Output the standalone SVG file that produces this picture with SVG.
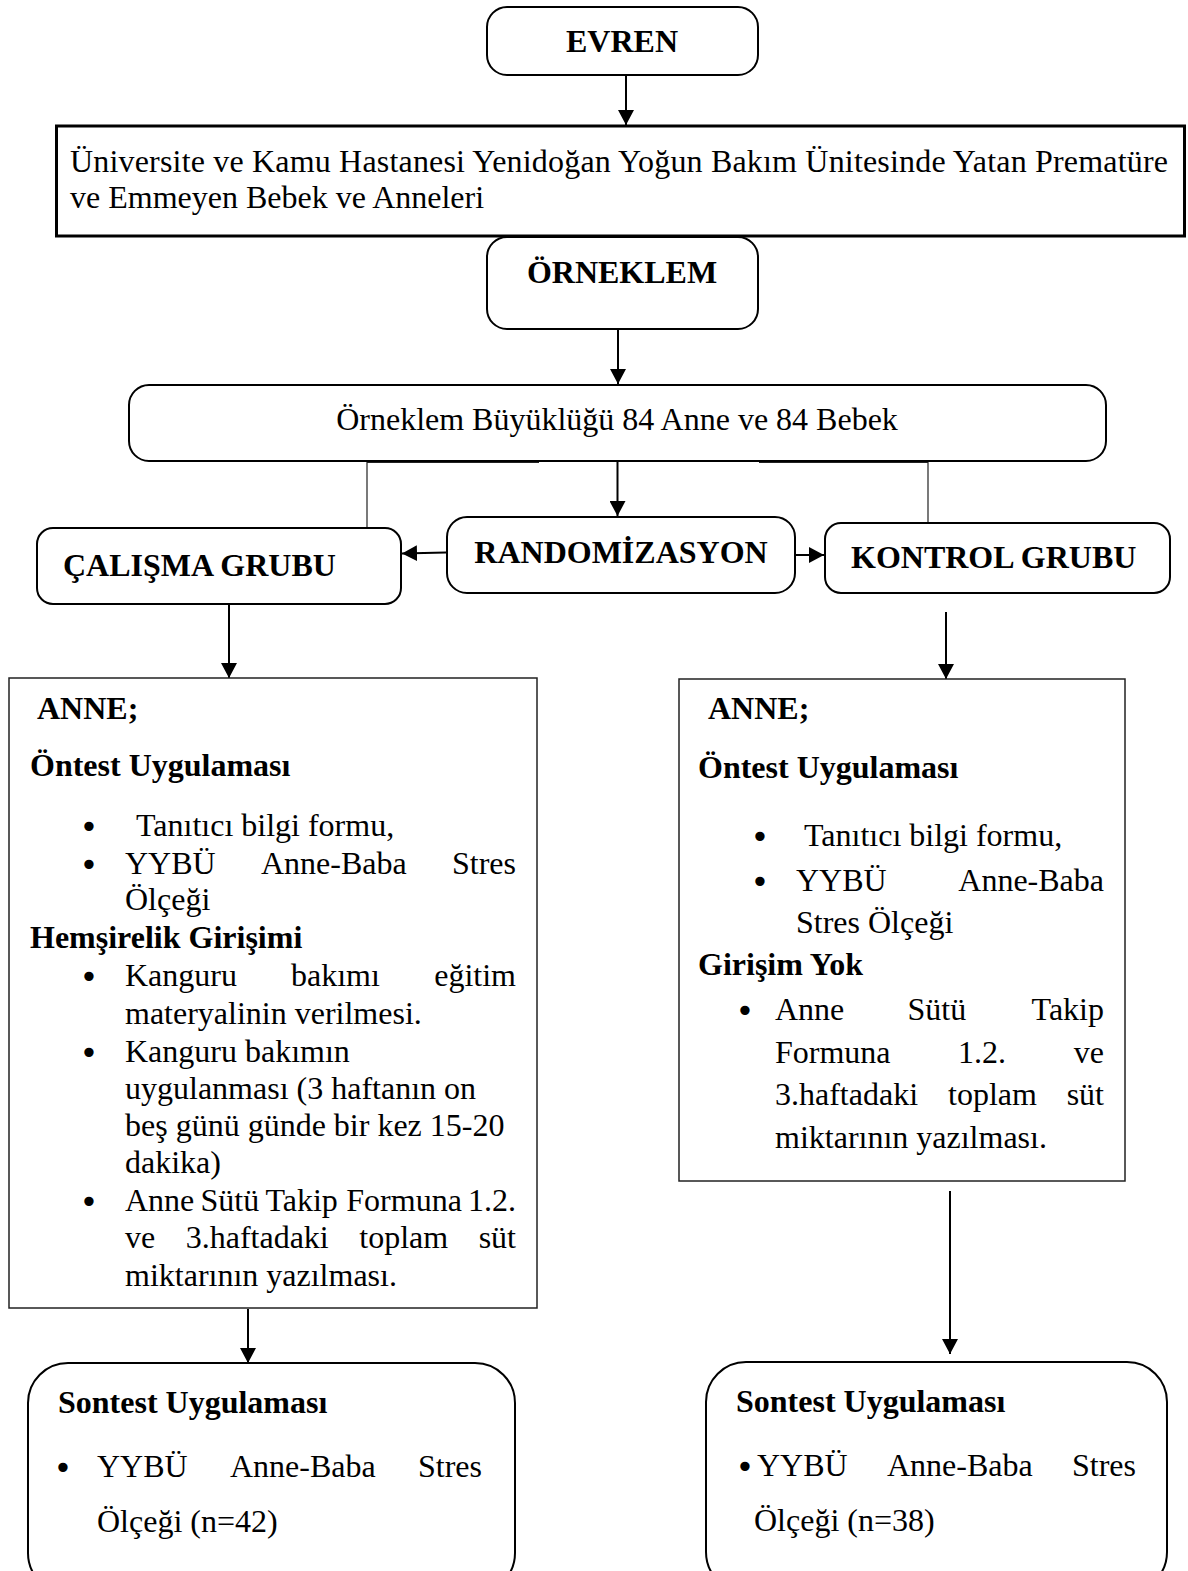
<svg xmlns="http://www.w3.org/2000/svg" width="1188" height="1571" viewBox="0 0 1188 1571">
<defs>
<style>
text{font-family:"Liberation Serif","Times New Roman",serif;font-size:32px;fill:#000}
.b{font-weight:bold}
.c{text-anchor:middle}
.e{text-anchor:end}
.bul{font-family:"DejaVu Sans",sans-serif;font-size:32px;text-anchor:middle}
.rb{fill:#fff;stroke:#000;stroke-width:2}
.sq{fill:#fff;stroke:#222;stroke-width:1.5}
.ln{fill:none;stroke:#000;stroke-width:2}
.thin{fill:none;stroke:#222;stroke-width:1.2}
</style>
<marker id="ah" markerUnits="userSpaceOnUse" markerWidth="16" markerHeight="16" viewBox="0 0 16 16" refX="15" refY="8" orient="auto">
<path d="M0,0 L15,8 L0,16 Z" fill="#000"/>
</marker>
</defs>

<g id="connectors">
<line class="ln" x1="626" y1="75" x2="626" y2="125" marker-end="url(#ah)"/>
<line class="ln" x1="618" y1="329" x2="618" y2="384" marker-end="url(#ah)"/>
<line class="ln" x1="617.5" y1="461" x2="617.5" y2="516" marker-end="url(#ah)"/>
<line class="ln" x1="446" y1="552.5" x2="402" y2="553.5" marker-end="url(#ah)"/>
<line class="ln" x1="795" y1="555" x2="824" y2="555" marker-end="url(#ah)"/>
<line class="ln" x1="229" y1="604" x2="229" y2="678" marker-end="url(#ah)"/>
<line class="ln" x1="946" y1="612" x2="946" y2="679" marker-end="url(#ah)"/>
<line class="ln" x1="248" y1="1309" x2="248" y2="1363" marker-end="url(#ah)"/>
<line class="ln" x1="950" y1="1191" x2="950" y2="1354" marker-end="url(#ah)"/>
<polyline class="thin" points="367,528 367,462.5 539,462.5"/>
<polyline class="thin" points="928,523 928,462.5 759,462.5"/>
</g>

<g id="evren">
<rect class="rb" x="487" y="7" width="271" height="68" rx="20"/>
<text class="b c" x="622" y="52">EVREN</text>
</g>

<g id="universite">
<rect fill="#fff" stroke="#000" stroke-width="3" x="56.5" y="126" width="1128" height="110"/>
<text x="70" y="172" textLength="1098" lengthAdjust="spacing">Üniversite ve Kamu Hastanesi Yenidoğan Yoğun Bakım Ünitesinde Yatan Prematüre</text>
<text x="70" y="208">ve Emmeyen Bebek ve Anneleri</text>
</g>

<g id="orneklem">
<rect class="rb" x="487" y="237" width="271" height="92" rx="20"/>
<text class="b c" x="622" y="283">ÖRNEKLEM</text>
</g>

<g id="buyukluk">
<rect class="rb" x="129" y="385" width="977" height="76" rx="20"/>
<text class="c" x="617" y="430">Örneklem Büyüklüğü 84 Anne ve 84 Bebek</text>
</g>

<g id="randomizasyon">
<rect class="rb" x="447" y="517" width="348" height="76" rx="20"/>
<text class="b c" x="621" y="563">RANDOMİZASYON</text>
</g>

<g id="calisma">
<rect class="rb" x="37" y="528" width="364" height="76" rx="16"/>
<text class="b" x="63" y="576">ÇALIŞMA GRUBU</text>
</g>

<g id="kontrol">
<rect class="rb" x="825" y="523" width="345" height="70" rx="16"/>
<text class="b" x="851" y="568">KONTROL GRUBU</text>
</g>

<g id="calisma-anne">
<rect class="sq" x="9" y="678" width="528" height="630"/>
<text class="b" x="37" y="719">ANNE;</text>
<text class="b" x="30" y="776">Öntest Uygulaması</text>
<text class="bul" x="89" y="838">•</text>
<text x="136" y="836">Tanıtıcı bilgi formu,</text>
<text class="bul" x="89" y="876">•</text>
<text x="125" y="874">YYBÜ</text>
<text x="261" y="874">Anne-Baba</text>
<text class="e" x="516" y="874">Stres</text>
<text x="125" y="910">Ölçeği</text>
<text class="b" x="30" y="948">Hemşirelik Girişimi</text>
<text class="bul" x="89" y="988">•</text>
<text x="125" y="986">Kanguru</text>
<text x="291" y="986">bakımı</text>
<text class="e" x="516" y="986">eğitim</text>
<text x="125" y="1024">materyalinin verilmesi.</text>
<text class="bul" x="89" y="1064">•</text>
<text x="125" y="1062">Kanguru bakımın</text>
<text x="125" y="1099">uygulanması (3 haftanın on</text>
<text x="125" y="1136">beş günü günde bir kez 15-20</text>
<text x="125" y="1173">dakika)</text>
<text class="bul" x="89" y="1213">•</text>
<text x="125" y="1211">Anne</text>
<text x="200.5" y="1211">Sütü</text>
<text x="265.4" y="1211">Takip</text>
<text x="346.3" y="1211">Formuna</text>
<text class="e" x="516" y="1211">1.2.</text>
<text x="125" y="1248">ve</text>
<text x="185.7" y="1248">3.haftadaki</text>
<text x="359.3" y="1248">toplam</text>
<text class="e" x="516" y="1248">süt</text>
<text x="125" y="1286">miktarının yazılması.</text>
</g>

<g id="kontrol-anne">
<rect class="sq" x="679" y="679" width="446" height="502"/>
<text class="b" x="708" y="719">ANNE;</text>
<text class="b" x="698" y="778">Öntest Uygulaması</text>
<text class="bul" x="760" y="848">•</text>
<text x="804" y="846">Tanıtıcı bilgi formu,</text>
<text class="bul" x="760" y="893">•</text>
<text x="796" y="891">YYBÜ</text>
<text class="e" x="1104" y="891">Anne-Baba</text>
<text x="796" y="933">Stres Ölçeği</text>
<text class="b" x="698" y="975">Girişim Yok</text>
<text class="bul" x="745" y="1022">•</text>
<text x="775" y="1020">Anne</text>
<text x="907.5" y="1020">Sütü</text>
<text class="e" x="1104" y="1020">Takip</text>
<text x="775" y="1063">Formuna</text>
<text x="958" y="1063">1.2.</text>
<text class="e" x="1104" y="1063">ve</text>
<text x="775" y="1105">3.haftadaki</text>
<text x="948" y="1105">toplam</text>
<text class="e" x="1104" y="1105">süt</text>
<text x="775" y="1148">miktarının yazılması.</text>
</g>

<g id="calisma-sontest">
<rect class="rb" x="28" y="1363" width="487" height="230" rx="40"/>
<text class="b" x="58" y="1413">Sontest Uygulaması</text>
<text class="bul" x="63" y="1479">•</text>
<text x="97" y="1477">YYBÜ</text>
<text x="230" y="1477">Anne-Baba</text>
<text class="e" x="482" y="1477">Stres</text>
<text x="97" y="1532">Ölçeği (n=42)</text>
</g>

<g id="kontrol-sontest">
<rect class="rb" x="706" y="1362" width="461" height="230" rx="40"/>
<text class="b" x="736" y="1412">Sontest Uygulaması</text>
<text class="bul" x="745" y="1478">•</text>
<text x="757" y="1476">YYBÜ</text>
<text x="887" y="1476">Anne-Baba</text>
<text class="e" x="1136" y="1476">Stres</text>
<text x="754" y="1531">Ölçeği (n=38)</text>
</g>
</svg>
